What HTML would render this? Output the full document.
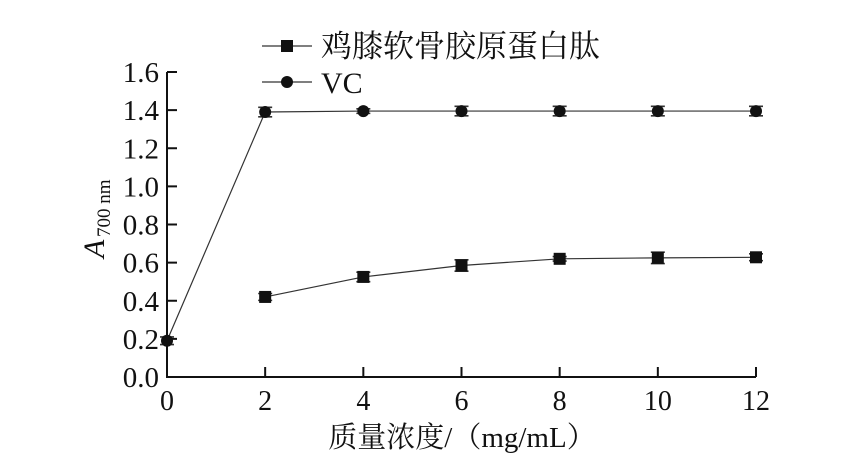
<!DOCTYPE html>
<html><head><meta charset="utf-8"><style>
body{margin:0;background:#fff;}
svg text{font-family:"Liberation Serif","Noto Serif CJK SC",serif;fill:#111;}
</style></head><body>
<svg width="848" height="464" id="c">
</svg>
<script>
const xCats=[0,2,4,6,8,10,12];
const vcX=[0,2,4,6,8,10,12];
const vcY=[0.19,1.39,1.395,1.395,1.395,1.395,1.395];
const vcErr=[0.02,0.025,0.012,0.025,0.025,0.025,0.025];
const pepX=[2,4,6,8,10,12];
const pepY=[0.42,0.525,0.585,0.62,0.625,0.628];
const pepErr=[0.018,0.025,0.03,0.012,0.03,0.018];
const yTicks=[0,0.2,0.4,0.6,0.8,1.0,1.2,1.4,1.6];
const yTickLabels=["0.0","0.2","0.4","0.6","0.8","1.0","1.2","1.4","1.6"];
const X0=167,X1=756,Y0=377,Y1=72;
const sx=v=>X0+(v-0)/12*(X1-X0);
const sy=v=>Y0-(v/1.6)*(Y0-Y1);
const svg=document.getElementById('c');
const NS='http://www.w3.org/2000/svg';
function mk(t,a,p){const e=document.createElementNS(NS,t);for(const k in a)e.setAttribute(k,a[k]);(p||svg).appendChild(e);return e;}
let e;
e=mk('path',{d:`M${X0},${Y1} V${Y0} H${X1}`,stroke:'#111','stroke-width':2,fill:'none'});


yTicks.forEach((t,i)=>{
 e=mk('line',{x1:X0,x2:X0+10,y1:sy(t),y2:sy(t),stroke:'#111','stroke-width':2});
 
 
 e=mk('text',{x:X0-8,y:sy(t)+10,'text-anchor':'end','font-size':29});
 e.textContent=yTickLabels[i];
 
 
});
xCats.forEach(t=>{
 e=mk('line',{x1:sx(t),x2:sx(t),y1:Y0,y2:Y0-10,stroke:'#111','stroke-width':2});
 
 
 e=mk('text',{x:sx(t),y:Y0+33,'text-anchor':'middle','font-size':28});
 e.textContent=String(t);
 
 
});
function series(xs,ys,errs,shape,name){
 e=mk('polyline',{points:xs.map((x,i)=>sx(x)+','+sy(ys[i])).join(' '),fill:'none',stroke:'#333','stroke-width':1.2});
 
 
 xs.forEach((x,i)=>{
  const cx=sx(x),cy=sy(ys[i]),t=sy(ys[i]+errs[i]),b=sy(ys[i]-errs[i]);
  e=mk('path',{d:`M${cx},${t}V${b}M${cx-7},${t}H${cx+7}M${cx-7},${b}H${cx+7}`,stroke:'#333','stroke-width':1.6,fill:'none'});
  
  
  if(shape==='circle')e=mk('circle',{cx:cx,cy:cy,r:6,fill:'#111'});
  else e=mk('rect',{x:cx-6,y:cy-6,width:12,height:12,fill:'#111'});
  
  
 });
}
series(vcX,vcY,vcErr,'circle','vc');
series(pepX,pepY,pepErr,'square','peptide');
// legend
e=mk('line',{x1:262,x2:312,y1:46,y2:46,stroke:'#333','stroke-width':1.2});


e=mk('rect',{x:281,y:40,width:12,height:12,fill:'#111'});


e=mk('text',{x:321,y:57,'font-size':31});
e.textContent='鸡膝软骨胶原蛋白肽';


e=mk('line',{x1:262,x2:312,y1:82,y2:82,stroke:'#333','stroke-width':1.2});


e=mk('circle',{cx:287,cy:82,r:6,fill:'#111'});


e=mk('text',{x:321,y:93,'font-size':30});
e.textContent='VC';


e=mk('text',{x:462,y:447,'text-anchor':'middle','font-size':29});
e.textContent='质量浓度/（mg/mL）';


const g=mk('g',{transform:'translate(104,232) rotate(-90)'});


e=mk('text',{x:-26,y:0,'font-size':30,'font-style':'italic'},g);
e.textContent='A';
e=mk('text',{x:-5,y:6,'font-size':19},g);
e.textContent='700 nm';
</script>
</body></html>
